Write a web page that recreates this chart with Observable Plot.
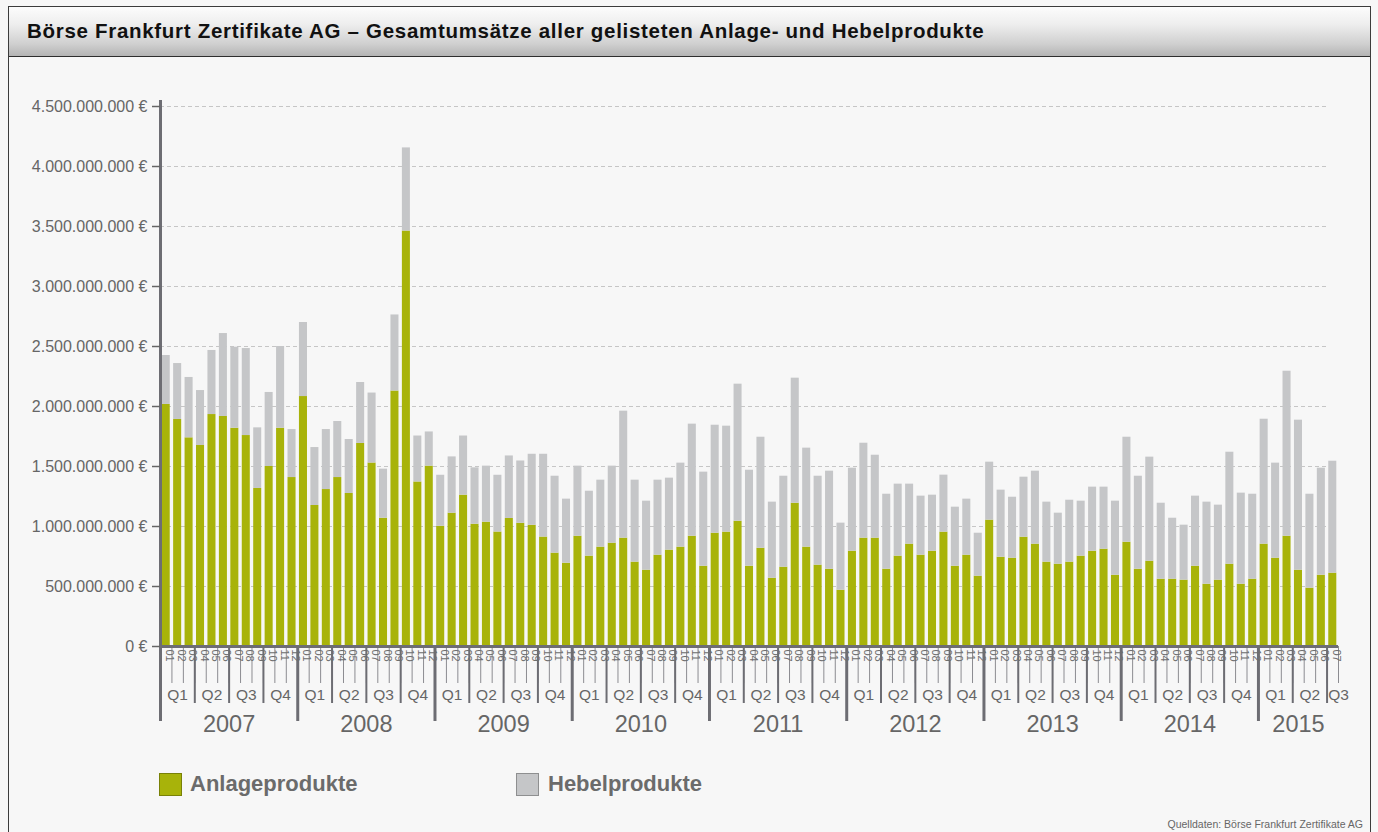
<!DOCTYPE html>
<html>
<head>
<meta charset="utf-8">
<script src="https://cdn.jsdelivr.net/npm/d3@7"></script>
<script src="https://cdn.jsdelivr.net/npm/@observablehq/plot@0.6"></script>
<style>
  html, body { margin: 0; padding: 0; width: 1378px; height: 832px; overflow: hidden; background: #f7f7f7;
    font-family: "Liberation Sans", Arial, Helvetica, sans-serif; }
  #frame { position: absolute; left: 8px; top: 6px; width: 1363px; height: 900px; border: 1px solid #3c3c3c; box-sizing: border-box; }
  #titlebar { position: absolute; left: 9px; top: 7px; width: 1361px; height: 50px; box-sizing: border-box;
    background: linear-gradient(to bottom, #fcfcfc 0%, #eeeeee 35%, #d0d0d0 75%, #b4b4b4 100%); border-bottom: 1px solid #2e2e2e; }
  #title { position: absolute; left: 27px; top: 18px; font-size: 20.5px; letter-spacing: 0.7px; line-height: 26px; font-weight: bold; color: #111; white-space: nowrap; }
  #chart { position: absolute; left: 0; top: 57px; }
  .sw { position: absolute; width: 23px; height: 23px; box-sizing: border-box; border: 1px solid rgba(0,0,0,0.28); }
  .lg { position: absolute; font-size: 22px; line-height: 22px; font-weight: bold; color: #6b6b6b; white-space: nowrap; }
  #source { position: absolute; right: 15px; top: 818px; font-size: 10.5px; line-height: 12px; color: #666; white-space: nowrap; }
</style>
</head>
<body>
<div id="frame"></div>
<div id="titlebar"></div>
<div id="title">Börse Frankfurt Zertifikate AG – Gesamtumsätze aller gelisteten Anlage- und Hebelprodukte</div>
<div id="chart"></div>
<div id="legend"></div>
<div id="source">Quelldaten: Börse Frankfurt Zertifikate AG</div>
<script>
// ---- Data (Mio. €), monthly from 01/2007 to 07/2015 ----
const years = [2007, 2008, 2009, 2010, 2011, 2012, 2013, 2014, 2015];
const monthNames = ["01", "02", "03", "04", "05", "06", "07", "08", "09", "10", "11", "12"];
const quarterNames = ["Q1", "Q2", "Q3", "Q4"];
const series = ["Anlageprodukte", "Hebelprodukte"];
const colors = ["#a8b30a", "#c5c6c8"];

const anlage = [
  2017, 1892, 1739, 1675, 1933, 1917, 1819, 1758, 1317, 1500, 1819, 1408,
  2083, 1175, 1308, 1408, 1275, 1692, 1529, 1069, 2129, 3462, 1371, 1503,
  1002, 1111, 1261, 1019, 1036, 954, 1067, 1027, 1010, 912, 778, 694,
  919, 753, 828, 861, 903, 703, 636, 761, 803, 828, 919, 669,
  944, 953, 1044, 669, 819, 569, 661, 1194, 828, 678, 644, 469,
  794, 903, 903, 644, 753, 853, 761, 794, 953, 669, 761, 586,
  1053, 744, 736, 911, 853, 703, 686, 703, 753, 794, 811, 594,
  869, 644, 711, 561, 561, 553, 669, 519, 553, 686, 519, 561,
  853, 736, 919, 636, 486, 594, 611
];
const hebel = [
  408, 466, 503, 458, 534, 691, 675, 725, 505, 617, 681, 400,
  617, 483, 500, 467, 450, 508, 583, 409, 634, 693, 383, 285,
  425, 469, 493, 470, 467, 473, 521, 519, 592, 690, 641, 534,
  584, 541, 558, 642, 1058, 683, 575, 625, 600, 700, 934, 784,
  900, 883, 1142, 800, 925, 634, 758, 1042, 825, 741, 817, 559,
  692, 791, 691, 625, 600, 500, 492, 467, 475, 492, 467, 358,
  483, 559, 508, 500, 608, 500, 425, 516, 458, 534, 517, 617,
  875, 775, 867, 633, 508, 458, 584, 684, 625, 933, 759, 708,
  1041, 792, 1375, 1250, 783, 892, 933
];
const yTicks = [0, 500e6, 1000e6, 1500e6, 2000e6, 2500e6, 3000e6, 3500e6, 4000e6, 4500e6];

// ---- Derived tables ----
const n = anlage.length;
const data = [
  ...anlage.map((v, i) => ({i, serie: series[0], value: v * 1e6})),
  ...hebel.map((v, i) => ({i, serie: series[1], value: v * 1e6}))
];
const monthIdx = d3.range(n);
const monthBounds = d3.range(1, n + 1);
const quarterBounds = d3.range(3, n, 3).filter(b => b % 12 !== 0);
const yearBounds = d3.range(12, n, 12);
const quarters = [];
for (let s = 0; s < n; s += 3) quarters.push({pos: Math.min(s + 1.5, n), label: quarterNames[(s % 12) / 3]});
const yearLabels = years.map((y, k) => ({pos: (k * 12 + Math.min(k * 12 + 12, n)) / 2, label: String(y)}));

const locale = d3.formatLocale({decimal: ",", thousands: ".", grouping: [3], currency: ["", " €"]});
const fmtNum = locale.format(",.0f");
const fmtEuro = d => fmtNum(d) + " €";

const axisColor = "#6d6d73";
const font = "Liberation Sans, Arial, Helvetica, sans-serif";

const chart = Plot.plot({
  width: 1378,
  height: 700,
  marginLeft: 160,
  marginRight: 40,
  marginTop: 43,
  marginBottom: 111,
  style: {background: "transparent", fontFamily: font, color: "#666", overflow: "visible"},
  x: {domain: [0, n], axis: null},
  y: {domain: [0, 4.55e9], axis: null},
  color: {domain: series, range: colors},
  marks: [
    Plot.gridY(yTicks.filter(d => d > 0), {stroke: "#c6c6c6", strokeOpacity: 1, strokeDasharray: "4,3", insetRight: 10}),
    Plot.rectY(data, {x: "i", interval: 1, y: "value", fill: "serie", order: series, insetLeft: 1.7, insetRight: 1.7}),
    // separators below the axis
    Plot.ruleX(monthBounds, {y1: 0, y2: 0, insetBottom: -37, stroke: "#8c8c91", strokeWidth: 1}),
    Plot.ruleX(quarterBounds, {y1: 0, y2: 0, insetBottom: -57, stroke: axisColor, strokeWidth: 2}),
    Plot.ruleX(yearBounds, {y1: 0, y2: 0, insetBottom: -75, stroke: axisColor, strokeWidth: 3}),
    // axes lines
    Plot.ruleX([0], {stroke: axisColor, strokeWidth: 3, insetBottom: -75}),
    Plot.ruleY([0], {stroke: axisColor, strokeWidth: 3}),
    Plot.axisY(yTicks, {tickSize: 8, tickPadding: 5, tickFormat: fmtEuro, fontSize: 16, color: "#666", strokeWidth: 1.5, label: null}),
    // multi-level x labels
    Plot.text(monthIdx, {x: i => i + 0.5, text: i => monthNames[i % 12], frameAnchor: "bottom", rotate: 90, textAnchor: "start", dy: 3, fontSize: 11, fill: "#6e6e6e"}),
    Plot.text(quarters, {x: "pos", text: "label", frameAnchor: "bottom", dy: 53, fontSize: 15.5, fill: "#666"}),
    Plot.text(yearLabels, {x: "pos", text: "label", frameAnchor: "bottom", dy: 85, fontSize: 23.5, fill: "#666"})
  ]
});
document.getElementById("chart").appendChild(chart);

// legend
const legend = document.getElementById("legend");
const legendPos = [{sx: 159, tx: 190}, {sx: 516, tx: 548}];
series.forEach((s, k) => {
  const sw = document.createElement("div");
  sw.className = "sw";
  sw.style.left = legendPos[k].sx + "px";
  sw.style.top = "773px";
  sw.style.background = colors[k];
  legend.appendChild(sw);
  const t = document.createElement("div");
  t.className = "lg";
  t.style.left = legendPos[k].tx + "px";
  t.style.top = "773px";
  t.textContent = s;
  legend.appendChild(t);
});
</script>
</body>
</html>
